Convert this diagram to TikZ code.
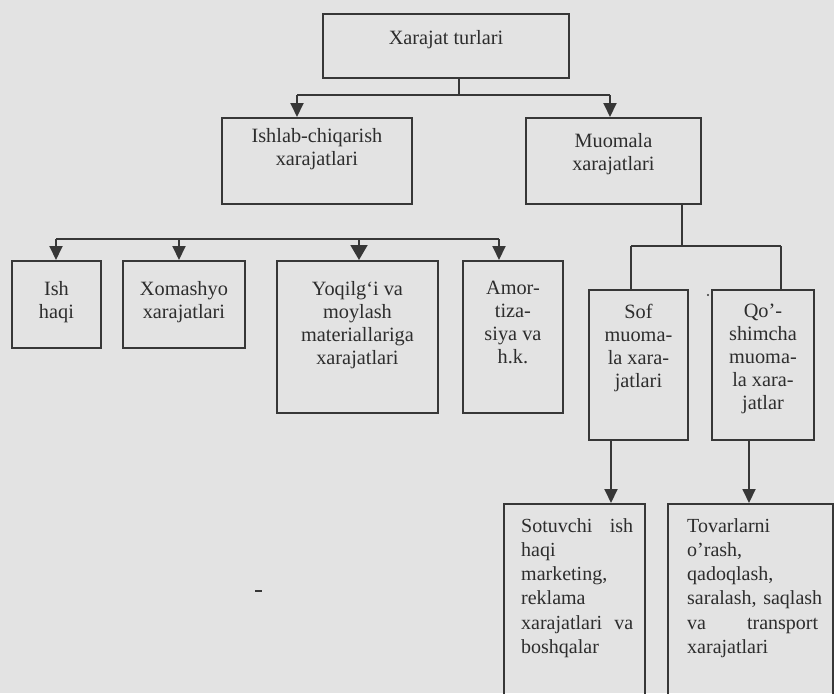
\documentclass[tikz,border=0pt]{standalone}
\usepackage{fontspec}
\setmainfont{Liberation Serif}
\usetikzlibrary{arrows.meta}
\definecolor{bg}{RGB}{227,227,227}
\definecolor{ln}{RGB}{55,55,55}
\definecolor{tx}{RGB}{45,45,45}
\begin{document}
\begin{tikzpicture}[x=1pt,y=-1pt,
  box/.style={draw=ln, line width=1.9pt, anchor=north west, inner sep=0pt},
  lbl/.style={text=tx, font=\fontsize{20.3}{23}\selectfont, align=center, inner sep=0pt, anchor=north},
  lbll/.style={text=tx, font=\fontsize{20}{24.3}\selectfont, align=left, inner sep=0pt, anchor=north west},
  con/.style={draw=ln, line width=1.9pt},
  arr/.style={draw=ln, line width=1.9pt, -{Triangle[width=13pt,length=14pt]}},
  arrb/.style={draw=ln, line width=1.9pt, -{Triangle[width=17pt,length=15pt]}}]
\fill[bg] (0,0) rectangle (834,693);
\useasboundingbox (0,0) rectangle (834,693);
\clip (0,0) rectangle (834,693);

% boxes
\node[box, minimum width=246pt, minimum height=64pt] (top) at (322,13) {};
\node[box, minimum width=190pt, minimum height=86pt] (ishlab) at (221,117) {};
\node[box, minimum width=175pt, minimum height=86pt] (muomala) at (525,117) {};
\node[box, minimum width=89pt, minimum height=87pt] (ish) at (11,260) {};
\node[box, minimum width=122pt, minimum height=87pt] (xom) at (122,260) {};
\node[box, minimum width=161pt, minimum height=152pt] (yoq) at (276,260) {};
\node[box, minimum width=100pt, minimum height=152pt] (amor) at (462,260) {};
\node[box, minimum width=99pt, minimum height=150pt] (sof) at (588,289) {};
\node[box, minimum width=102pt, minimum height=150pt] (qosh) at (711,289) {};
\node[box, minimum width=141pt, minimum height=220pt] (sot) at (503,503) {};
\node[box, minimum width=165pt, minimum height=220pt] (tov) at (667,503) {};

% texts
\node[lbl, anchor=center] (ttop) at ([yshift=6pt]top.center) {Xarajat turlari};
\node[lbl] (tishlab) at ([yshift=-11pt]ishlab.north) {Ishlab-chiqarish\\xarajatlari};
\node[lbl] (tmuomala) at ([yshift=-16pt]muomala.north) {Muomala\\xarajatlari};
\node[lbl] (tish) at ([yshift=-21pt]ish.north) {Ish\\haqi};
\node[lbl] (txom) at ([yshift=-21pt]xom.north) {Xomashyo\\xarajatlari};
\node[lbl] (tyoq) at ([yshift=-21pt]yoq.north) {Yoqilg‘i va\\moylash\\materiallariga\\xarajatlari};
\node[lbl] (tamor) at ([yshift=-21pt]amor.north) {Amor-\\tiza-\\siya va\\h.k.};
\node[lbl] (tsof) at ([yshift=-15pt]sof.north) {Sof\\muoma-\\la xara-\\jatlari};
\node[lbl] (tqosh) at ([yshift=-15pt]qosh.north) {Qo’-\\shimcha\\muoma-\\la xara-\\jatlar};
\node[lbll, text width=112pt] (tsot) at (521,518) {Sotuvchi\hfill ish\\haqi\\marketing,\\reklama\\xarajatlari\hfill va\\boshqalar};
\node[lbll, text width=131pt] (ttov) at (687,518) {Tovarlarni\\o’rash,\\qadoqlash,\\\mbox{saralash, saqlash}\\va\hfill transport\\xarajatlari};

% connectors: top level
\coordinate (j1) at (459,95);
\coordinate (a1) at (297,95);
\coordinate (a2) at (610,95);
\draw[con] (top.south -| j1) -- (j1);
\draw[con] (a1) -- (a2);
\draw[arr] (a1) -- (ishlab.north -| a1);
\draw[arr] (a2) -- (muomala.north -| a2);

% bottom-left row
\coordinate (b1) at (56,239);
\coordinate (b2) at (179,239);
\coordinate (b3) at (359,239);
\coordinate (b4) at (499,239);
\draw[con] (b1) -- (b4);
\draw[arr] (b1) -- (ish.north -| b1);
\draw[arr] (b2) -- (xom.north -| b2);
\draw[arrb] (b3) -- (yoq.north -| b3);
\draw[arr] (b4) -- (amor.north -| b4);

% muomala branch
\coordinate (m1) at (682,246);
\coordinate (m2) at (631,246);
\coordinate (m3) at (781,246);
\draw[con] (muomala.south -| m1) -- (m1);
\draw[con] (m2) -- (m3);
\draw[con] (m2) -- (sof.north -| m2);
\draw[con] (m3) -- (qosh.north -| m3);
\coordinate (s1) at (611,0);
\coordinate (s2) at (749,0);
\draw[arr] (sof.south -| s1) -- (sot.north -| s1);
\draw[arr] (qosh.south -| s2) -- (tov.north -| s2);

% stray marks of the print
\draw[ln, line width=1.5pt] (255,591) -- (262,591);
\fill[ln] (708,295) circle (1.2pt);
\end{tikzpicture}
\end{document}
